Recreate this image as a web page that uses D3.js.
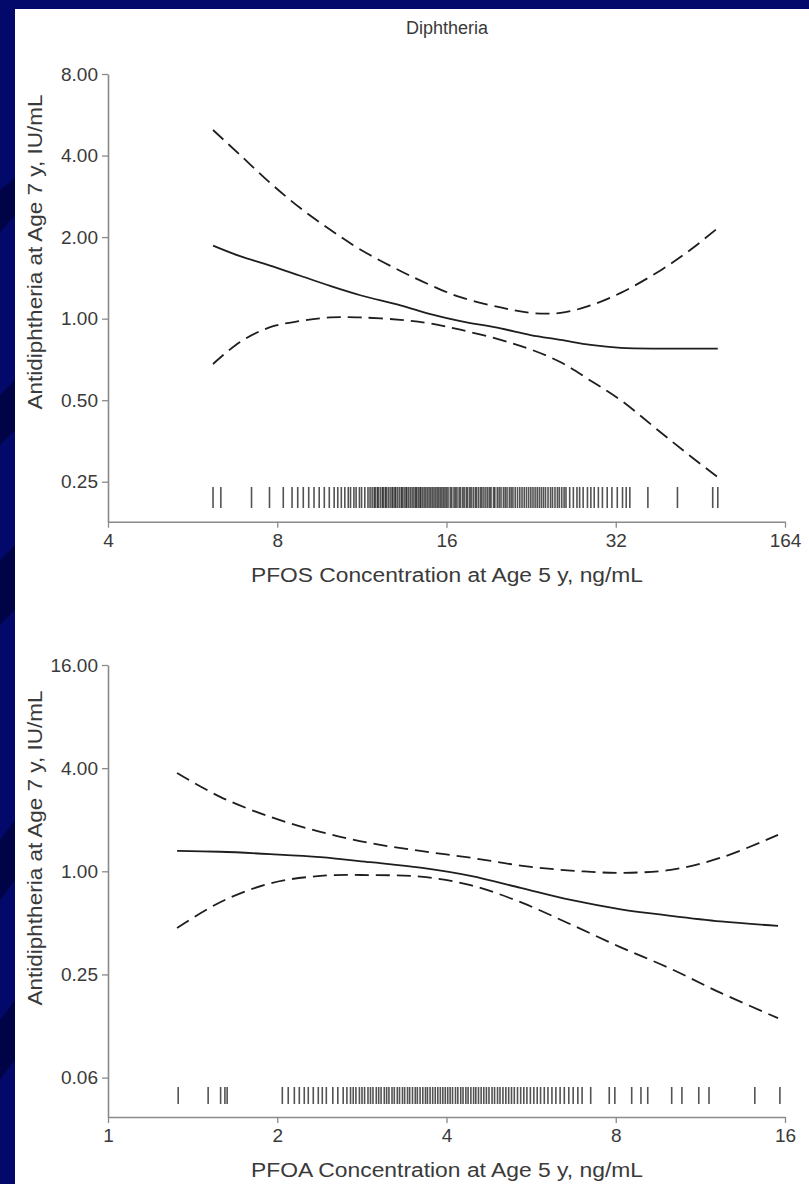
<!DOCTYPE html>
<html><head><meta charset="utf-8">
<script src="https://cdn.jsdelivr.net/npm/d3@7"></script>
<style>html,body{margin:0;padding:0;background:#03086b;}svg{display:block;}</style>
</head><body>
<script>
// ---------- DATA ----------
const chartTitle = "Diphtheria";
const yTitle = "Antidiphtheria at Age 7 y, IU/mL";
const pfosTitle = "PFOS Concentration at Age 5 y, ng/mL";
const pfoaTitle = "PFOA Concentration at Age 5 y, ng/mL";

const pfosTicks = [4, 8, 16, 32, 64];
const pfosTickLabels = ["4", "8", "16", "32", "164"];
const pfosYTicks = [8, 4, 2, 1, 0.5, 0.25];
const pfosYTickLabels = ["8.00", "4.00", "2.00", "1.00", "0.50", "0.25"];

const pfoaTicks = [1, 2, 4, 8, 16];
const pfoaTickLabels = ["1", "2", "4", "8", "16"];
const pfoaYTicks = [16, 4, 1, 0.25, 0.0625];
const pfoaYTickLabels = ["16.00", "4.00", "1.00", "0.25", "0.06"];

// PFOS curve (x in ng/mL)
const pfosX     = [6.15, 6.87, 7.77, 8.79, 9.94, 11.24, 13.25, 14.98, 16.94, 19.97, 22.58, 25.54, 28.88, 32.66, 38.49, 43.52, 48.6];
const pfosFit   = [1.86, 1.70, 1.57, 1.44, 1.32, 1.22, 1.12, 1.04, 0.98, 0.92, 0.87, 0.835, 0.80, 0.78, 0.775, 0.775, 0.775];
const pfosUpper = [4.97, 4.02, 3.17, 2.56, 2.13, 1.80, 1.50, 1.33, 1.20, 1.10, 1.05, 1.05, 1.12, 1.245, 1.51, 1.80, 2.16];
const pfosLower = [0.68, 0.82, 0.93, 0.98, 1.01, 1.01, 0.99, 0.96, 0.91, 0.835, 0.77, 0.69, 0.59, 0.50, 0.38, 0.31, 0.26];

// PFOA curve
const pfoaX     = [1.327, 1.583, 1.943, 2.386, 2.928, 3.595, 4.414, 5.419, 6.653, 8.168, 10.02, 12.30, 15.55];
const pfoaFit   = [1.315, 1.30, 1.26, 1.21, 1.13, 1.05, 0.94, 0.80, 0.68, 0.60, 0.55, 0.51, 0.48];
const pfoaUpper = [3.75, 2.72, 2.08, 1.70, 1.46, 1.315, 1.20, 1.08, 1.01, 0.98, 1.02, 1.20, 1.63];
const pfoaLower = [0.467, 0.66, 0.85, 0.94, 0.95, 0.93, 0.83, 0.66, 0.49, 0.36, 0.27, 0.195, 0.139];

// rug (individual exposures)
const pfosRug = [6.15, 6.35, 7.2, 7.75, 8.2, 8.5, 8.7, 8.9, 9.1, 9.3, 9.5, 9.7, 9.9, 10.1, 10.25, 10.4, 10.55, 10.7, 10.8, 10.95, 11.05, 11.2, 11.3, 11.45, 11.6, 11.7,
  11.8, 11.9, 11.95, 12.05, 12.1, 12.2, 12.3, 12.35, 12.45, 12.5, 12.6, 12.7, 12.8, 12.85, 12.95, 13.0, 13.1, 13.2, 13.3, 13.35, 13.45, 13.55, 13.6, 13.7, 13.8, 13.9, 14.0, 14.1, 14.15, 14.25, 14.35, 14.4, 14.5, 14.6, 14.7, 14.8, 14.9, 15.0, 15.1, 15.2, 15.3, 15.4, 15.5, 15.6, 15.7, 15.8, 15.9, 16.0, 16.1, 16.25, 16.35, 16.5, 16.6, 16.7, 16.85, 16.95, 17.1, 17.2, 17.35, 17.45, 17.6, 17.7, 17.85, 18.0, 18.1, 18.25, 18.4, 18.5, 18.65, 18.8, 18.95, 19.1, 19.2, 19.4, 19.5, 19.7, 19.85, 20.0, 20.2, 20.35, 20.5, 20.7, 20.85, 21.0, 21.2, 21.4, 21.6, 21.8, 22.0, 22.2, 22.4, 22.6, 22.8, 23.0, 23.2, 23.4, 23.6, 23.8, 24.0, 24.25, 24.5, 24.7, 24.95, 25.2, 25.4, 25.65, 25.9, 26.1,
  26.5, 26.9, 27.3, 27.6, 28.0, 28.5, 28.9, 29.3, 29.8, 30.3, 30.9, 31.5, 32.2, 32.9, 33.4, 33.9,
  36.5, 41.2, 47.6, 48.6];
const pfoaRug = [1.333, 1.507, 1.586, 1.614, 1.629, 2.042, 2.092, 2.145, 2.189, 2.234, 2.271, 2.318, 2.366, 2.405, 2.445, 2.511, 2.563,
  2.62, 2.66, 2.7, 2.73, 2.76, 2.8, 2.83, 2.86, 2.9, 2.93, 2.96, 3.0, 3.03, 3.06, 3.1, 3.13, 3.16, 3.2, 3.23, 3.27, 3.3, 3.34, 3.37, 3.41, 3.44, 3.48, 3.52, 3.55, 3.59, 3.63, 3.67, 3.7, 3.74, 3.78, 3.82, 3.86, 3.9, 3.94, 3.98, 4.02, 4.06, 4.1, 4.15, 4.19, 4.24, 4.28, 4.33, 4.37, 4.42, 4.47, 4.51, 4.56, 4.61, 4.66, 4.71, 4.76, 4.82, 4.87, 4.93, 4.98, 5.04, 5.1, 5.16, 5.22, 5.28, 5.35, 5.42, 5.49, 5.56, 5.64, 5.72, 5.8, 5.88, 5.97, 6.06, 6.16, 6.26, 6.37, 6.48, 6.6, 6.72, 6.85, 6.97,
  7.22, 7.79, 7.97, 8.54, 8.87, 9.12, 10.06, 10.49, 11.24, 11.72, 14.14, 15.67];

// ---------- DRAW ----------
const W = 809, H = 1184;
const svg = d3.select("body").append("svg").attr("width", W).attr("height", H);

// slide background
svg.append("rect").attr("width", W).attr("height", H).attr("fill", "#03086b");
const dark = "#000447";
[[0,190,15,178,15,215,0,232],[0,395,15,380,15,430,0,445],[0,560,15,545,15,610,0,625],[0,840,15,820,15,880,0,900],[0,1020,15,1000,15,1060,0,1080]]
  .forEach(p => svg.append("polygon").attr("points", [[p[0],p[1]],[p[2],p[3]],[p[4],p[5]],[p[6],p[7]]].map(d=>d.join(",")).join(" ")).attr("fill", dark));
svg.append("rect").attr("x", 15).attr("y", 9).attr("width", W - 15).attr("height", H - 9).attr("fill", "#ffffff");

const font = "'Liberation Sans', Arial, Helvetica, sans-serif";
const textCol = "#3a3a3a";
const axisCol = "#8a8a8a";
const inkCol = "#1e1e1e";

svg.append("text").attr("x", 447).attr("y", 34).attr("text-anchor", "middle")
  .attr("font-family", font).attr("font-size", 18).attr("fill", textCol).text(chartTitle);

function panel(cfg) {
  const g = svg.append("g");
  const x = d3.scaleLog().base(2).domain(cfg.xDomain).range([108, 785]);
  const y = d3.scaleLog().base(2).domain(cfg.yDomain).range([cfg.yBottom, cfg.yTop]);

  // y axis
  const ya = g.append("g").attr("transform", "translate(108,0)")
    .call(d3.axisLeft(y).tickValues(cfg.yTicks).tickFormat((d, i) => cfg.yLabels[i]).tickSize(6).tickSizeOuter(0).tickPadding(4));
  // x axis
  const xa = g.append("g").attr("transform", `translate(0,${cfg.yBottom})`)
    .call(d3.axisBottom(x).tickValues(cfg.xTicks).tickFormat((d, i) => cfg.xLabels[i]).tickSize(6).tickSizeOuter(0).tickPadding(6));
  [ya, xa].forEach(a => {
    a.select(".domain").attr("stroke", axisCol).attr("stroke-width", 1.6);
    a.selectAll(".tick line").attr("stroke", axisCol).attr("stroke-width", 1.3);
    a.selectAll(".tick text").attr("fill", textCol).attr("font-family", font).attr("font-size", 19);
  });

  // axis titles
  g.append("text").attr("x", 447).attr("y", cfg.yBottom + 60).attr("text-anchor", "middle")
    .attr("font-family", font).attr("font-size", 20).attr("fill", textCol)
    .attr("textLength", 392).attr("lengthAdjust", "spacingAndGlyphs").text(cfg.xTitle);
  g.append("text").attr("transform", `translate(42,${cfg.yTitleCenter}) rotate(-90)`).attr("text-anchor", "middle")
    .attr("font-family", font).attr("font-size", 20).attr("fill", textCol)
    .attr("textLength", 315).attr("lengthAdjust", "spacingAndGlyphs").text(yTitle);

  // rug
  g.append("g").selectAll("line").data(cfg.rug).join("line")
    .attr("x1", d => x(d)).attr("x2", d => x(d))
    .attr("y1", cfg.rugY[0]).attr("y2", cfg.rugY[1])
    .attr("stroke", "#1a1a1a").attr("stroke-opacity", 0.75).attr("stroke-width", 1.6);

  // curves
  const line = d3.line().curve(d3.curveCatmullRom.alpha(0.5)).x(d => x(d[0])).y(d => y(d[1]));
  const series = [
    { v: cfg.fit, dash: null },
    { v: cfg.upper, dash: "14,7" },
    { v: cfg.lower, dash: "14,7" }
  ];
  series.forEach(s => {
    g.append("path").datum(cfg.cx.map((c, i) => [c, s.v[i]])).attr("d", line)
      .attr("fill", "none").attr("stroke", inkCol).attr("stroke-width", 1.8)
      .attr("stroke-dasharray", s.dash);
  });
}

panel({
  xDomain: [4, 64], yDomain: [0.178, 8], yTop: 74, yBottom: 521.7,
  xTicks: pfosTicks, xLabels: pfosTickLabels, yTicks: pfosYTicks, yLabels: pfosYTickLabels,
  xTitle: pfosTitle, yTitleCenter: 252, rug: pfosRug, rugY: [487, 508],
  cx: pfosX, fit: pfosFit, upper: pfosUpper, lower: pfosLower
});
panel({
  xDomain: [1, 16], yDomain: [0.0368, 16], yTop: 665, yBottom: 1117,
  xTicks: pfoaTicks, xLabels: pfoaTickLabels, yTicks: pfoaYTicks, yLabels: pfoaYTickLabels,
  xTitle: pfoaTitle, yTitleCenter: 848, rug: pfoaRug, rugY: [1087, 1104],
  cx: pfoaX, fit: pfoaFit, upper: pfoaUpper, lower: pfoaLower
});
</script>
</body></html>
